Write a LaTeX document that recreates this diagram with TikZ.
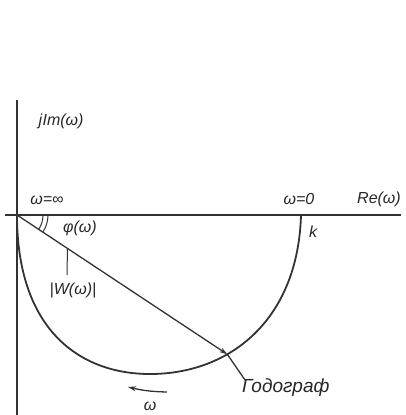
\documentclass[tikz,border=0pt]{standalone}
\usepackage{fontspec}
\setmainfont{Liberation Sans}
\usetikzlibrary{arrows.meta,calc}
\begin{document}
\begin{tikzpicture}[x=1pt,y=-1pt,
  axisline/.style={line width=1.6pt, draw=black!80},
  curveline/.style={line width=1.8pt, draw=black!80},
  thinline/.style={line width=1.3pt, draw=black!80},
  lbl/.style={font=\fontsize{16}{18}\selectfont\itshape, text=black!85, inner sep=0pt},
  biglbl/.style={font=\fontsize{19}{21}\selectfont\itshape, text=black!85, inner sep=0pt},
]
\useasboundingbox (0,0) rectangle (405,415);
% axes
\coordinate (O) at (17,215);
\coordinate (ytop) at (17,100);
\coordinate (ybot) at (17,415);
\coordinate (xl) at (5,215);
\coordinate (xr) at (401,215);
\draw[axisline] (ytop) -- (ybot);
\draw[axisline] (xl) -- (xr);
% hodograph
\coordinate (K) at (301,215);
\coordinate (B) at (150,374);
\draw[curveline] (O) .. controls (17,330) and (80,374) .. (B)
                     .. controls (230,374) and (298,320) .. (K);
\path (B) .. controls (230,374) and (298,320) .. (K) coordinate[pos=0.35] (P);
% vector W
\draw[thinline, -{Stealth[length=8pt,width=5pt]}] (O) -- (P);
% angle marks
\draw[thinline, line width=1pt] ($(O)+(26,0)$) arc[start angle=0, end angle=33, radius=26];
\draw[thinline, line width=1pt] ($(O)+(31,0)$) arc[start angle=0, end angle=33, radius=31];
% labels
\node[lbl] (jim) at (61,121) {j\kern0.5pt Im(ω)};
\node[lbl] (winf) at (47,200) {ω=∞};
\node[lbl] (wzero) at (299,199) {ω=0};
\node[lbl] (re) at (379,199) {Re(ω)};
\node[lbl] (k) at (313,232) {k};
\node[lbl] (phi) at (80,228) {φ(ω)};
\node[lbl] (absw) at (73,290) {|W(ω)|};
\coordinate (wfoot) at ($(O)!0.24!(P)$);
\coordinate (wlead) at (67,275);
\draw[thinline, line width=1pt] (wfoot) -- (wlead);
% Godograf label
\node[biglbl, anchor=west] (god) at (242,388) {Годограф};
\coordinate (gtip) at (245,380);
\draw[thinline] (P) -- (gtip);
% direction arrow
\coordinate (ar1) at (167,392);
\coordinate (ar2) at (128,387);
\draw[thinline, -{Stealth[length=8pt,width=5pt]}] (ar1) to[bend left=6] (ar2);
\node[lbl] (om) at (150,406) {ω};
\end{tikzpicture}
\end{document}
